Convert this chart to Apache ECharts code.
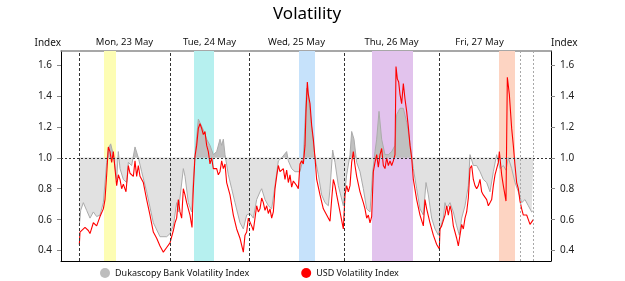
<!DOCTYPE html>
<html>
<head>
<meta charset="utf-8">
<title>Volatility</title>
<script src="https://cdn.jsdelivr.net/npm/echarts@6/dist/echarts.min.js"></script>
<style>
  html, body { margin: 0; padding: 0; background: #fff; }
  #volatility-chart { width: 625px; height: 281px; }
</style>
</head>
<body>
<div id="volatility-chart"></div>
<script>
// x = sample position through the week (0 .. 1470)
var dayLabels = ["Mon, 23 May", "Tue, 24 May", "Wed, 25 May", "Thu, 26 May", "Fri, 27 May"];
var dayStarts = [54, 327, 564, 849, 1134, 1377];
var weekEndMarks = [1377, 1416];
var highlightBands = [[129, 165], [399, 459], [714, 762], [933, 1056], [1314, 1362]];
var yTicks = [0.4, 0.6, 0.8, 1.0, 1.2, 1.4, 1.6];

// Dukascopy Bank Volatility Index
var dukasData = [
  [55, 0.56], [59, 0.66], [67, 0.71], [77, 0.66], [87, 0.61], [97, 0.65], [107, 0.62], [117, 0.63],
  [127, 0.71], [137, 0.97], [142, 1.06], [149, 1.09], [157, 1.02], [167, 0.86], [172, 1.04], [177, 0.93],
  [187, 0.86], [197, 0.84], [202, 0.97], [212, 0.95], [222, 1.07], [232, 1.00], [242, 0.91], [257, 0.78],
  [277, 0.58], [297, 0.49], [317, 0.49], [327, 0.51], [337, 0.56], [347, 0.71], [352, 0.65], [357, 0.64],
  [367, 0.93], [372, 0.88], [382, 0.71], [392, 0.65], [397, 0.86], [402, 1.02], [412, 1.25], [417, 1.24],
  [427, 1.18], [437, 1.12], [447, 1.08], [457, 1.02], [467, 1.04], [477, 1.12], [482, 1.08], [487, 1.12],
  [492, 1.02], [502, 0.89], [512, 0.80], [522, 0.71], [537, 0.58], [547, 0.54], [557, 0.63], [567, 0.64],
  [577, 0.61], [587, 0.73], [597, 0.78], [602, 0.80], [612, 0.73], [622, 0.69], [632, 0.67], [642, 0.82],
  [652, 0.98], [662, 1.00], [677, 1.04], [682, 0.98], [692, 0.93], [702, 0.91], [717, 0.91], [727, 1.00],
  [732, 1.23], [737, 1.45], [742, 1.40], [747, 1.30], [752, 1.19], [762, 1.00], [772, 0.89], [782, 0.76],
  [792, 0.71], [802, 0.69], [807, 0.80], [815, 1.05], [822, 0.97], [832, 0.82], [847, 0.69], [857, 0.89],
  [867, 1.02], [872, 1.17], [879, 1.12], [887, 0.97], [897, 0.91], [907, 0.80], [917, 0.67], [927, 0.65],
  [935, 0.91], [942, 1.04], [947, 1.12], [954, 1.30], [962, 1.12], [972, 1.02], [982, 1.02], [992, 1.04],
  [1002, 1.08], [1007, 1.28], [1012, 1.30], [1017, 1.32], [1027, 1.32], [1037, 1.23], [1047, 1.10],
  [1057, 0.93], [1067, 0.80], [1077, 0.67], [1087, 0.63], [1095, 0.84], [1102, 0.76], [1112, 0.61],
  [1122, 0.54], [1132, 0.50], [1137, 0.54], [1147, 0.61], [1152, 0.71], [1157, 0.67], [1167, 0.71],
  [1177, 0.65], [1187, 0.56], [1195, 0.50], [1202, 0.61], [1212, 0.69], [1222, 0.82], [1227, 1.02],
  [1237, 0.95], [1247, 0.95], [1257, 0.91], [1267, 0.86], [1277, 0.84], [1287, 0.78], [1297, 0.91],
  [1307, 1.02], [1317, 0.93], [1327, 0.95], [1335, 0.92], [1342, 1.00], [1352, 0.93], [1362, 0.84],
  [1372, 0.78], [1382, 0.71], [1392, 0.73], [1402, 0.69], [1412, 0.65], [1417, 0.66]
];

// USD Volatility Index
var usdData = [
  [55, 0.44], [57, 0.52], [62, 0.53], [72, 0.55], [82, 0.53], [87, 0.51], [97, 0.58], [107, 0.56],
  [117, 0.62], [127, 0.67], [132, 0.73], [137, 0.89], [142, 1.07], [147, 1.04], [152, 0.97], [157, 1.04],
  [162, 0.93], [167, 0.82], [172, 0.89], [177, 0.86], [182, 0.80], [187, 0.83], [195, 0.78], [202, 0.95],
  [207, 0.90], [212, 0.91], [217, 0.88], [222, 0.98], [227, 0.88], [232, 0.95], [237, 0.88], [242, 0.89],
  [247, 0.84], [257, 0.73], [267, 0.63], [277, 0.52], [287, 0.48], [297, 0.43], [307, 0.39], [317, 0.42],
  [327, 0.45], [337, 0.53], [342, 0.58], [347, 0.61], [352, 0.73], [357, 0.65], [362, 0.61], [367, 0.80],
  [372, 0.76], [377, 0.71], [387, 0.63], [393, 0.55], [397, 0.80], [402, 1.01], [407, 1.08], [412, 1.19],
  [417, 1.22], [422, 1.19], [427, 1.15], [432, 1.17], [437, 1.08], [442, 1.04], [447, 0.96], [452, 1.00],
  [457, 0.93], [467, 0.93], [472, 0.89], [477, 0.91], [482, 0.98], [487, 0.93], [492, 0.96], [497, 0.84],
  [507, 0.76], [517, 0.63], [527, 0.54], [537, 0.48], [547, 0.39], [552, 0.50], [557, 0.52], [562, 0.61],
  [567, 0.61], [572, 0.56], [577, 0.53], [582, 0.61], [587, 0.69], [592, 0.65], [597, 0.67], [602, 0.74],
  [607, 0.71], [612, 0.66], [617, 0.69], [622, 0.64], [627, 0.67], [632, 0.61], [637, 0.65], [642, 0.80],
  [647, 0.88], [652, 0.95], [657, 0.91], [667, 0.93], [672, 0.86], [677, 0.92], [682, 0.84], [687, 0.89],
  [692, 0.81], [697, 0.85], [702, 0.84], [707, 0.82], [712, 0.80], [717, 0.96], [722, 0.98], [727, 0.96],
  [732, 1.08], [735, 1.30], [739, 1.49], [742, 1.41], [747, 1.35], [752, 1.21], [757, 1.12], [762, 1.00],
  [767, 0.86], [777, 0.76], [787, 0.67], [797, 0.63], [807, 0.59], [812, 0.73], [817, 0.86], [822, 0.82],
  [827, 0.76], [837, 0.65], [847, 0.54], [852, 0.76], [857, 0.82], [862, 0.78], [867, 0.82], [872, 0.97],
  [877, 1.04], [882, 0.95], [887, 0.88], [897, 0.78], [907, 0.71], [912, 0.67], [917, 0.61], [922, 0.63],
  [927, 0.58], [932, 0.62], [937, 0.91], [942, 0.97], [947, 1.02], [952, 0.94], [957, 1.02], [962, 1.06],
  [967, 0.95], [972, 0.93], [977, 1.00], [982, 0.95], [987, 0.98], [992, 0.95], [997, 0.98], [1002, 1.02],
  [1005, 1.59], [1009, 1.51], [1013, 1.49], [1017, 1.41], [1022, 1.35], [1027, 1.48], [1032, 1.38],
  [1037, 1.30], [1042, 1.20], [1047, 1.08], [1052, 1.00], [1057, 0.86], [1067, 0.73], [1077, 0.63],
  [1087, 0.56], [1092, 0.73], [1097, 0.67], [1107, 0.58], [1117, 0.50], [1127, 0.44], [1135, 0.41],
  [1137, 0.54], [1142, 0.56], [1147, 0.55], [1152, 0.63], [1157, 0.69], [1162, 0.63], [1167, 0.69],
  [1172, 0.65], [1177, 0.56], [1187, 0.48], [1192, 0.43], [1197, 0.50], [1202, 0.57], [1207, 0.54],
  [1212, 0.61], [1217, 0.65], [1222, 0.74], [1227, 0.93], [1232, 0.95], [1237, 0.86], [1242, 0.82],
  [1247, 0.80], [1252, 0.82], [1257, 0.86], [1262, 0.78], [1267, 0.76], [1277, 0.73], [1282, 0.69],
  [1287, 0.71], [1292, 0.73], [1297, 0.82], [1302, 0.89], [1307, 0.90], [1312, 0.97], [1315, 1.04],
  [1322, 0.89], [1327, 0.82], [1335, 0.72], [1339, 1.52], [1345, 1.41], [1352, 1.19], [1357, 1.08],
  [1362, 0.95], [1367, 0.84], [1372, 0.80], [1377, 0.72], [1382, 0.67], [1387, 0.63], [1392, 0.62],
  [1397, 0.63], [1402, 0.60], [1407, 0.57], [1412, 0.56], [1417, 0.60]
];

var X_MAX = 1470;
var Y_MIN = 0.333;
var Y_MAX = 1.69;
var gridTop = 51, gridBottom = 20, chartH = 281;
var font = "Noto Sans";
var bandColors = ["#fdfdb4", "#b6f0ef", "#c6e2fb", "#e2c3ed", "#fdd4c2"];

var dayCenters = [];
for (var i = 0; i < dayLabels.length; i++) {
  dayCenters.push((dayStarts[i] + dayStarts[i + 1]) / 2);
}

// grey fill: darker above the 1.0 baseline, lighter below
var split = (Y_MAX - 1) / (Y_MAX - Y_MIN);
var fillColor = new echarts.graphic.LinearGradient(0, gridTop, 0, chartH - gridBottom, [
  { offset: 0, color: "#c0c0c0" },
  { offset: split, color: "#c0c0c0" },
  { offset: split, color: "#e1e1e1" },
  { offset: 1, color: "#e1e1e1" }
], true);

var sepLines = [];
for (var j = 0; j < dayStarts.length - 1; j++) {
  sepLines.push({ xAxis: dayStarts[j] });
}
weekEndMarks.forEach(function (v) {
  sepLines.push({ xAxis: v, lineStyle: { color: "#a8a8a8", type: [2, 2] } });
});
sepLines.push({ yAxis: 1.0, lineStyle: { color: "#333", type: [2, 2] } });

var bandAreas = highlightBands.map(function (b, k) {
  return [{ xAxis: b[0], itemStyle: { color: bandColors[k] } }, { xAxis: b[1] }];
});

var yAxisBase = function (pos) {
  return {
    type: "value",
    position: pos,
    min: Y_MIN,
    max: Y_MAX,
    name: "Index",
    nameLocation: "end",
    nameGap: 3,
    nameTextStyle: { color: "#111", fontSize: 10, fontFamily: font, align: pos === "left" ? "right" : "left" },
    axisLine: { show: true, onZero: false, lineStyle: { color: "#000", width: 1 } },
    axisTick: { show: true, length: 4, customValues: yTicks, lineStyle: { color: "#888" } },
    axisLabel: { customValues: yTicks, margin: 9, color: "#222", fontSize: 10, fontFamily: font,
      formatter: function (v) { return v.toFixed(1); } },
    splitLine: { show: false }
  };
};

var chart = echarts.init(document.getElementById("volatility-chart"));
var option = {
  animation: false,
  backgroundColor: "#fff",
  title: {
    text: "Volatility",
    left: 268,
    top: 1,
    textStyle: { fontFamily: font, fontSize: 17, fontWeight: "normal", color: "#000" }
  },
  legend: {
    left: 100,
    top: 268,
    padding: 0,
    icon: "circle",
    itemWidth: 10,
    itemHeight: 10,
    itemGap: 52,
    textStyle: { fontFamily: font, fontSize: 9, color: "#111" },
    data: ["Dukascopy Bank Volatility Index", "USD Volatility Index"]
  },
  grid: { left: 61, right: 74, top: gridTop, bottom: gridBottom },
  xAxis: [
    {
      type: "value",
      min: 0,
      max: X_MAX,
      position: "bottom",
      axisLine: { show: true, onZero: false, lineStyle: { color: "#000", width: 1 } },
      axisTick: { show: false },
      axisLabel: { show: false },
      splitLine: { show: false }
    },
    {
      type: "value",
      min: 0,
      max: X_MAX,
      position: "top",
      axisLine: { show: true, onZero: false, lineStyle: { color: "#8a8a8a", width: 1.5 } },
      axisTick: { show: false },
      axisLabel: {
        customValues: dayCenters,
        margin: 4,
        color: "#111",
        fontSize: 9.5,
        fontFamily: font,
        formatter: function (v) {
          var idx = dayCenters.indexOf(v);
          return idx >= 0 ? dayLabels[idx] : "";
        }
      },
      splitLine: { show: false }
    }
  ],
  yAxis: [yAxisBase("left"), yAxisBase("right")],
  series: [
    {
      name: "Dukascopy Bank Volatility Index",
      type: "line",
      data: dukasData,
      showSymbol: false,
      symbol: "circle",
      z: 2,
      itemStyle: { color: "#bdbdbd" },
      lineStyle: { color: "#ababab", width: 1 },
      areaStyle: { origin: 1.0, color: fillColor, opacity: 1 },
      markArea: { silent: true, data: bandAreas }
    },
    {
      name: "USD Volatility Index",
      type: "line",
      data: usdData,
      showSymbol: false,
      symbol: "circle",
      z: 3,
      itemStyle: { color: "#ff0000" },
      lineStyle: { color: "#ff0000", width: 1.1 },
      markLine: {
        silent: true,
        symbol: "none",
        label: { show: false },
        lineStyle: { color: "#333", type: [3, 2], width: 1 },
        data: sepLines
      }
    }
  ]
};
chart.setOption(option);
</script>
</body>
</html>
